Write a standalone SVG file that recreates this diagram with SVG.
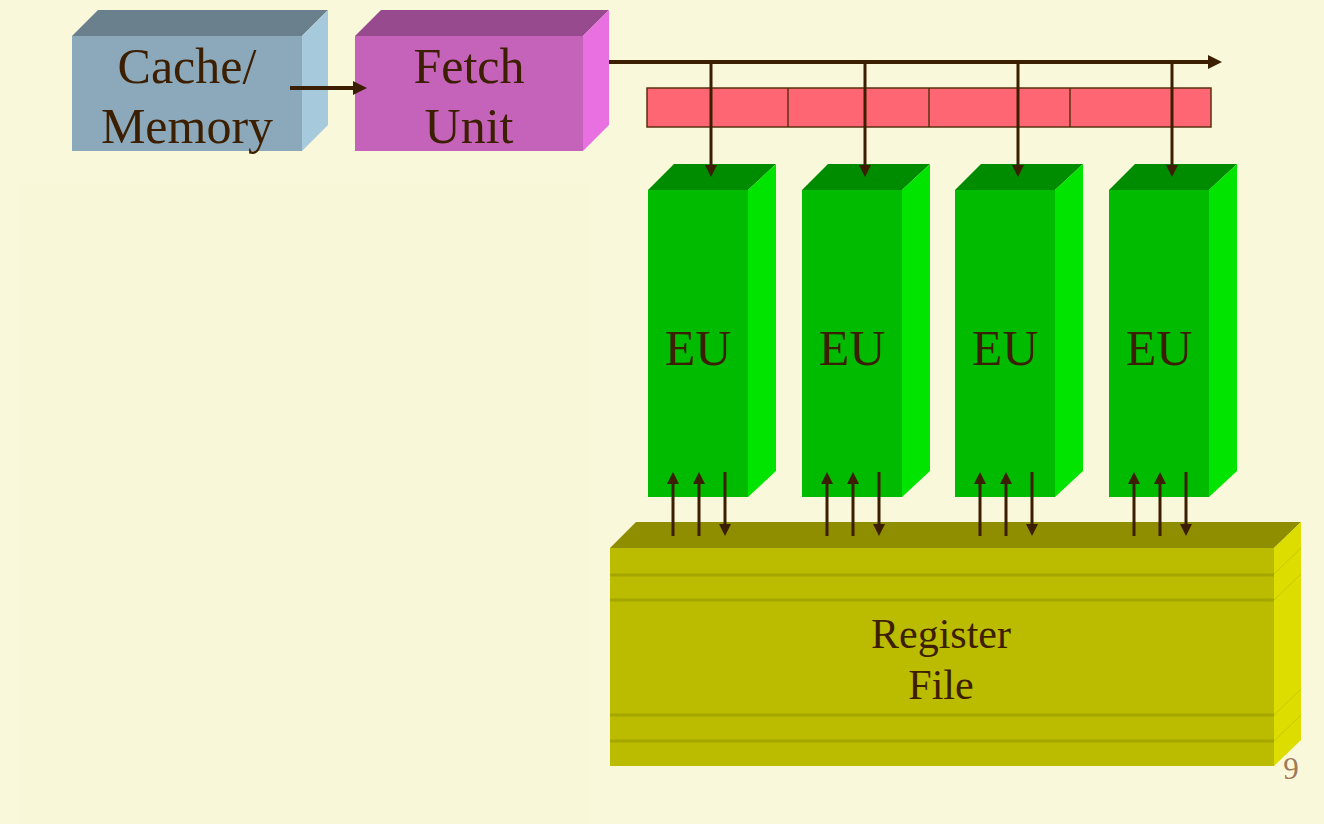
<svg xmlns="http://www.w3.org/2000/svg" width="1324" height="824" viewBox="0 0 1324 824">
<style>
.t{font-family:"Liberation Serif","Times New Roman",serif;fill:#3b1f00;text-anchor:middle}
.conn{stroke:#3b1f00;fill:none}
.fw{stroke-width:4}
.th{stroke-width:3}
.stripe{stroke:#a6a600;stroke-width:3}
.sstripe{stroke:#c8c800;stroke-width:1}
</style>
<defs>
<marker id="ahBig" markerUnits="userSpaceOnUse" markerWidth="14" markerHeight="14" refX="3" refY="7" orient="auto">
<path d="M0,0 L14,7 L0,14 z" fill="#3b1f00"/>
</marker>
<marker id="ahSm" markerUnits="userSpaceOnUse" markerWidth="12" markerHeight="12" refX="3" refY="6" orient="auto">
<path d="M0,0 L12,6 L0,12 z" fill="#3b1f00"/>
</marker>
</defs>
<rect x="0" y="0" width="1324" height="824" fill="#faf8db"/>
<rect x="20" y="183" width="570" height="641" fill="#f8f7d8"/>

<g id="cache">
<polygon points="72,36 98,10 328,10 302,36" fill="#6a808c"/>
<polygon points="302,36 328,10 328,125 302,151" fill="#a6cadc"/>
<rect x="72" y="36" width="230" height="115" fill="#8ba9ba"/>
<text class="t" x="187" y="83" font-size="50">Cache/</text>
<text class="t" x="187" y="143" font-size="50">Memory</text>
</g>

<g id="fetch">
<polygon points="355,36 381,10 609,10 583,36" fill="#974a8e"/>
<polygon points="583,36 609,10 609,125 583,151" fill="#e870e0"/>
<rect x="355" y="36" width="228" height="115" fill="#c563bb"/>
<text class="t" x="469" y="83" font-size="50">Fetch</text>
<text class="t" x="469" y="143" font-size="50">Unit</text>
</g>

<g id="queue">
<rect x="647" y="88" width="564" height="39" fill="#ff6673" stroke="#5a3010" stroke-width="1.5"/>
<line x1="788" y1="88" x2="788" y2="127" stroke="#5a3010" stroke-width="1.5"/>
<line x1="929" y1="88" x2="929" y2="127" stroke="#5a3010" stroke-width="1.5"/>
<line x1="1070" y1="88" x2="1070" y2="127" stroke="#5a3010" stroke-width="1.5"/>
</g>

<g id="eu1">
<polygon points="648,190 674,164 776,164 748,190" fill="#008c00"/>
<polygon points="748,190 776,164 776,471 748,497" fill="#00e400"/>
<rect x="648" y="190" width="100" height="307" fill="#00bb00"/>
<text class="t" x="698" y="365" font-size="50">EU</text>
</g>
<g id="eu2">
<polygon points="802,190 828,164 930,164 902,190" fill="#008c00"/>
<polygon points="902,190 930,164 930,471 902,497" fill="#00e400"/>
<rect x="802" y="190" width="100" height="307" fill="#00bb00"/>
<text class="t" x="852" y="365" font-size="50">EU</text>
</g>
<g id="eu3">
<polygon points="955,190 981,164 1083,164 1055,190" fill="#008c00"/>
<polygon points="1055,190 1083,164 1083,471 1055,497" fill="#00e400"/>
<rect x="955" y="190" width="100" height="307" fill="#00bb00"/>
<text class="t" x="1005" y="365" font-size="50">EU</text>
</g>
<g id="eu4">
<polygon points="1109,190 1135,164 1237,164 1209,190" fill="#008c00"/>
<polygon points="1209,190 1237,164 1237,471 1209,497" fill="#00e400"/>
<rect x="1109" y="190" width="100" height="307" fill="#00bb00"/>
<text class="t" x="1159" y="365" font-size="50">EU</text>
</g>

<g id="regfile">
<polygon points="610,548 636,522 1301,522 1274,548" fill="#8e8e00"/>
<polygon points="1274,548 1301,522 1301,740 1274,766" fill="#dddd00"/>
<rect x="610" y="548" width="664" height="218" fill="#bbbb00"/>
<line class="stripe" x1="610" y1="575" x2="1274" y2="575"/>
<line class="stripe" x1="610" y1="600" x2="1274" y2="600"/>
<line class="stripe" x1="610" y1="715" x2="1274" y2="715"/>
<line class="stripe" x1="610" y1="741" x2="1274" y2="741"/>
<line class="sstripe" x1="1274" y1="574" x2="1301" y2="548"/>
<line class="sstripe" x1="1274" y1="600" x2="1301" y2="574"/>
<line class="sstripe" x1="1274" y1="715" x2="1301" y2="689"/>
<line class="sstripe" x1="1274" y1="741" x2="1301" y2="715"/>
<text class="t" x="941" y="648" font-size="42">Register</text>
<text class="t" x="941" y="699" font-size="42">File</text>
</g>

<g id="connectors">
<line class="conn fw" x1="290" y1="88" x2="356" y2="88" marker-end="url(#ahBig)"/>
<line class="conn fw" x1="609" y1="62" x2="1211" y2="62" marker-end="url(#ahBig)"/>
<line class="conn th" x1="711" y1="62" x2="711" y2="168" marker-end="url(#ahSm)"/>
<line class="conn th" x1="865" y1="62" x2="865" y2="168" marker-end="url(#ahSm)"/>
<line class="conn th" x1="1018" y1="62" x2="1018" y2="168" marker-end="url(#ahSm)"/>
<line class="conn th" x1="1172" y1="62" x2="1172" y2="168" marker-end="url(#ahSm)"/>

<line class="conn th" x1="673" y1="536" x2="673" y2="481" marker-end="url(#ahSm)"/>
<line class="conn th" x1="699" y1="536" x2="699" y2="481" marker-end="url(#ahSm)"/>
<line class="conn th" x1="725" y1="472" x2="725" y2="527" marker-end="url(#ahSm)"/>
<line class="conn th" x1="827" y1="536" x2="827" y2="481" marker-end="url(#ahSm)"/>
<line class="conn th" x1="853" y1="536" x2="853" y2="481" marker-end="url(#ahSm)"/>
<line class="conn th" x1="879" y1="472" x2="879" y2="527" marker-end="url(#ahSm)"/>
<line class="conn th" x1="980" y1="536" x2="980" y2="481" marker-end="url(#ahSm)"/>
<line class="conn th" x1="1006" y1="536" x2="1006" y2="481" marker-end="url(#ahSm)"/>
<line class="conn th" x1="1032" y1="472" x2="1032" y2="527" marker-end="url(#ahSm)"/>
<line class="conn th" x1="1134" y1="536" x2="1134" y2="481" marker-end="url(#ahSm)"/>
<line class="conn th" x1="1160" y1="536" x2="1160" y2="481" marker-end="url(#ahSm)"/>
<line class="conn th" x1="1186" y1="472" x2="1186" y2="527" marker-end="url(#ahSm)"/>
</g>

<text x="1291" y="779" font-family="'Liberation Serif','Times New Roman',serif" font-size="31" fill="#9e7a5a" text-anchor="middle">9</text>
</svg>
